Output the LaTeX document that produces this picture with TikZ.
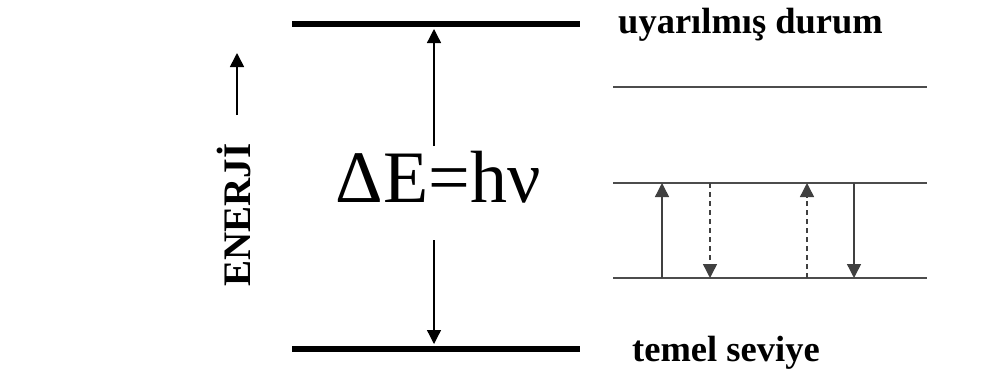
\documentclass[tikz,border=0pt]{standalone}
\usepackage{fontspec}
\setmainfont{Liberation Serif}
\usetikzlibrary{arrows.meta}
\tikzset{
  mainlvl/.style={line width=6pt},
  sublvl/.style={line width=1.8pt, black!70},
  trans/.style={line width=1.3pt, -{Triangle[width=14pt,length=14pt]}},
  solidtr/.style={trans, black!75, line width=1.4pt},
  dashtr/.style={trans, black!75, line width=1.4pt, dash pattern=on 5pt off 4pt},
  lvltext/.style={font=\fontsize{36.5}{36}\selectfont\bfseries, anchor=base west, inner sep=0pt}
}
\begin{document}
\begin{tikzpicture}[x=1pt,y=-1pt]
  \useasboundingbox (0,0) rectangle (981,383);
  % main levels
  \coordinate (ex1) at (292,24);  \coordinate (ex2) at (580,24);
  \coordinate (gr1) at (292,349); \coordinate (gr2) at (580,349);
  \draw[mainlvl] (ex1) -- (ex2);
  \draw[mainlvl] (gr1) -- (gr2);
  \node[lvltext] (exc) at (618,33) {uyarılmış durum};
  \node[lvltext] (gnd) at (632,361) {temel seviye};
  % energy gap
  \node[font=\fontsize{74}{74}\selectfont, anchor=base, inner sep=0pt] (gap) at (438,202) {ΔE=hν};
  \coordinate (upfoot) at (434,146); \coordinate (uptip) at (434,29);
  \coordinate (dnfoot) at (434,240); \coordinate (dntip) at (434,344);
  \draw[trans] (upfoot) -- (uptip);
  \draw[trans] (dnfoot) -- (dntip);
  % energy axis
  \node[rotate=90, anchor=base, inner sep=0pt, font=\fontsize{39}{39}\selectfont\bfseries] (enr) at (250,215) {ENERJİ};
  \coordinate (axfoot) at (237,115); \coordinate (axtip) at (237,53);
  \draw[trans, line width=1.6pt] (axfoot) -- (axtip);
  % sublevels
  \foreach \y/\n in {87/s1,183/s2,278/s3} {
    \coordinate (\n a) at (613,\y);
    \coordinate (\n b) at (927,\y);
    \draw[sublvl] (\n a) -- (\n b);
  }
  \foreach \x/\i/\f/\t/\d in {662/1/s3/s2/solidtr, 710/2/s2/s3/dashtr, 807/3/s3/s2/dashtr, 854/4/s2/s3/solidtr} {
    \coordinate (f\i) at (\x,0 |- \f a);
    \coordinate (t\i) at (\x,0 |- \t a);
    \draw[\d] (f\i) -- (t\i);
  }
\end{tikzpicture}
\end{document}
